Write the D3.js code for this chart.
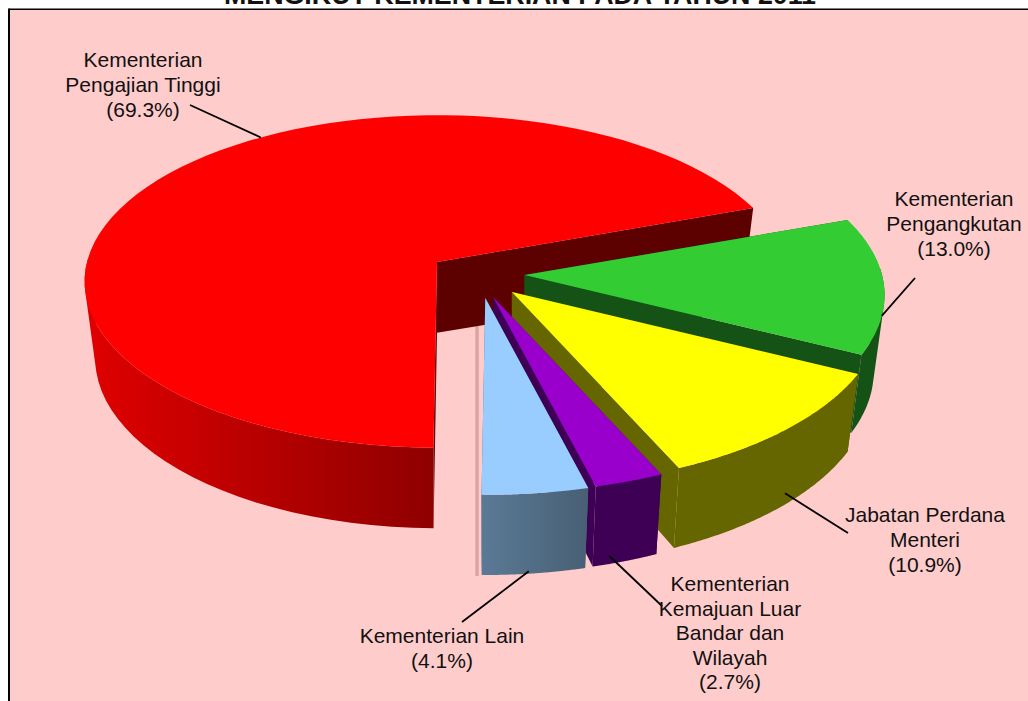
<!DOCTYPE html>
<html>
<head>
<meta charset="utf-8">
<script src="https://d3js.org/d3.v7.min.js"></script>
<style>
html, body { margin: 0; padding: 0; background: #fff; overflow: hidden; }
text { font-family: "Liberation Sans", Arial, sans-serif; fill: #111; }
</style>
</head>
<body>
<div id="chart"></div>
<script>
var titleText = "MENGIKUT KEMENTERIAN PADA TAHUN 2011";
var categories = ["Kementerian Pengajian Tinggi", "Kementerian Pengangkutan", "Jabatan Perdana Menteri", "Kementerian Kemajuan Luar Bandar dan Wilayah", "Kementerian Lain"];
var values = [69.3, 13.0, 10.9, 2.7, 4.1];
var labelLines = [
    ["Kementerian", "Pengajian Tinggi"],
    ["Kementerian", "Pengangkutan"],
    ["Jabatan Perdana", "Menteri"],
    ["Kementerian", "Kemajuan Luar", "Bandar dan", "Wilayah"],
    ["Kementerian Lain"]
];

var width = 1028;
var height = 701;

// warna atas, dinding dalam, dinding luar
var topColor = ["#ff0000", "#33cc33", "#ffff00", "#9900cc", "#99ccff"];
var innerColor = ["#5c0000", "#145216", "#666600", "#3d0055", "#4f6b85"];
var outerFrom = ["#e00000", "#145216", "#666600", "#3d0055", "#5b7a96"];
var outerTo = ["#8f0000", "#145216", "#666600", "#3d0055", "#485f74"];

// kedudukan setiap kepingan (pecahan jejari)
var pull = [[0, 0], [0.25, 0.08], [0.214, 0.183], [0.16, 0.213], [0.138, 0.22]];
// label: tengah x, baris pertama y, tinggi baris, hujung garisan
var labelPos = [
    { x: 143, y: 67, lh: 25, end: [190, 105] },
    { x: 954, y: 206, lh: 25, end: [915, 278] },
    { x: 925, y: 522, lh: 25, end: [848, 533] },
    { x: 730, y: 591, lh: 24.5, end: [662, 606] },
    { x: 442, y: 643, lh: 25, end: [462, 622] }
];
// titik mula garisan: indeks sudut dalam kepingan, kedalaman
var leaderFrom = [[0.585, 0], [0.72, 0], [0.48, 0.85], [0.75, 0.9], [0.55, 0.97]];

var cx = 437, cy = 262, depth = 76, persp = 0.117;
var xScale = d3.scaleLinear().domain([-1, 1]).range([cx - 350, cx + 350]);
var yScale = d3.scaleLinear().domain([-1, 1]).range([cy - 164, cy + 164]);

var pie = d3.pie().sort(null)
    .startAngle(Math.PI + 0.009)
    .endAngle(3 * Math.PI + 0.009);
var arcs = pie(values);

// titik pada bulatan -> skrin
function project(i, a, r, z) {
    var X = Math.sin(a) * r, Y = -Math.cos(a) * r;
    var s = 1 / (1 - persp * Y);
    var k = (1 + 0.27 * pull[i][1]) * (1 - 0.03 * z);
    var ax = xScale(pull[i][0]), ay = yScale(pull[i][1]);
    return [
        ax + (xScale(X * s) - cx) * k,
        ay + (yScale(Y * s) - cy) * k + z * depth * s
    ];
}

function arcAngles(d) {
    return d3.range(0, 81).map(function (t) {
        return d.startAngle + (d.endAngle - d.startAngle) * t / 80;
    });
}

var line = d3.line();

var svg = d3.select("#chart").append("svg")
    .attr("width", width)
    .attr("height", height)
    .style("display", "block");

var defs = svg.append("defs");

// latar belakang dan bingkai
svg.append("rect").attr("x", 9).attr("y", 9).attr("width", width).attr("height", height).attr("fill", "#ffcccc");
svg.append("line").attr("x1", 9).attr("x2", width).attr("y1", 9.25).attr("y2", 9.25).attr("stroke", "#000").attr("stroke-width", 1.5);
svg.append("line").attr("x1", 9).attr("x2", 9).attr("y1", 8.5).attr("y2", height).attr("stroke", "#000").attr("stroke-width", 2);

svg.append("text")
    .attr("x", 520).attr("y", 3.5)
    .attr("text-anchor", "middle")
    .attr("font-size", 26.8)
    .attr("font-weight", "bold")
    .text(titleText);

// jalur pucat di sebelah kiri kepingan biru
var last = arcs.length - 1;
var stripe = [project(last, arcs[last].startAngle, 0, 0), project(last, arcs[last].endAngle, 1, 1)];
svg.append("rect")
    .attr("x", stripe[0][0] - 10).attr("y", stripe[0][1])
    .attr("width", 3.5).attr("height", stripe[1][1] - stripe[0][1] + 1)
    .attr("fill", "#dca3a3");

var slices = svg.selectAll("g.slice")
    .data(arcs)
    .enter()
    .append("g")
    .attr("class", "slice");

slices.each(function (d, i) {
    var g = d3.select(this);
    var angles = arcAngles(d);
    var top = angles.map(function (a) { return project(i, a, 1, 0); });
    var apex = project(i, 0, 0, 0), apexLow = project(i, 0, 0, 0.93);

    // dinding dalam
    [0, angles.length - 1].forEach(function (e) {
        g.append("path")
            .attr("d", line([apex, top[e], project(i, angles[e], 1, 1), apexLow]) + "Z")
            .attr("fill", innerColor[i]);
    });

    // dinding luar, bahagian yang menghadap ke depan sahaja
    var front = angles.filter(function (a) { return Math.cos(a) <= 0.05; });
    if (front.length > 1) {
        var ext = d3.extent(front, function (a) { return project(i, a, 1, 0)[0]; });
        var grad = defs.append("linearGradient")
            .attr("id", "wall" + i)
            .attr("gradientUnits", "userSpaceOnUse")
            .attr("x1", ext[0]).attr("x2", ext[1])
            .attr("y1", 0).attr("y2", 0);
        grad.append("stop").attr("offset", 0).attr("stop-color", outerFrom[i]);
        grad.append("stop").attr("offset", 1).attr("stop-color", outerTo[i]);

        // satu path supaya tiada garis sambungan antara jalur, semua jalur sama arah
        var wallPath = d3.pairs(front).map(function (p) {
            var quad = [project(i, p[0], 1, 0), project(i, p[1], 1, 0), project(i, p[1], 1, 1), project(i, p[0], 1, 1)];
            if (d3.polygonArea(quad) < 0) quad.reverse();
            return line(quad) + "Z";
        }).join("");
        g.append("path")
            .attr("d", wallPath)
            .attr("fill", "url(#wall" + i + ")");
    }

    // muka atas
    g.append("path")
        .attr("d", line([apex].concat(top)) + "Z")
        .attr("fill", topColor[i]);
});

// garisan label
arcs.forEach(function (d, i) {
    var f = leaderFrom[i];
    var p = project(i, d.startAngle + (d.endAngle - d.startAngle) * f[0], 1, f[1]);
    svg.append("line")
        .attr("x1", p[0]).attr("y1", p[1])
        .attr("x2", labelPos[i].end[0]).attr("y2", labelPos[i].end[1])
        .attr("stroke", "#000").attr("stroke-width", 1.8);
});

// label
categories.forEach(function (c, i) {
    var lines = labelLines[i].concat("(" + values[i].toFixed(1) + "%)");
    var t = svg.append("text")
        .attr("text-anchor", "middle")
        .attr("font-size", 21);
    lines.forEach(function (s, j) {
        t.append("tspan")
            .attr("x", labelPos[i].x)
            .attr("y", labelPos[i].y + j * labelPos[i].lh)
            .text(s);
    });
});
</script>
</body>
</html>
